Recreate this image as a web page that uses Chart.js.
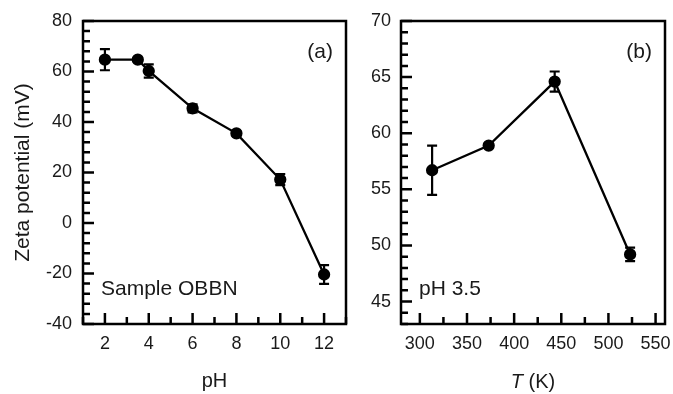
<!DOCTYPE html>
<html lang="en">
<head>
  <meta charset="UTF-8">
  <title>Zeta potential</title>
  <script src="https://cdn.jsdelivr.net/npm/chart.js"></script>
  <style>
    body { margin: 0; background: #fff; }
    #wrapA { position: absolute; left: 0; top: 0; width: 355px; height: 394px; }
    #wrapB { position: absolute; left: 355px; top: 0; width: 318px; height: 394px; }
  </style>
</head>
<body>
  <div id="wrapA"><canvas id="chartA"></canvas></div>
  <div id="wrapB"><canvas id="chartB"></canvas></div>

  <script>
    // panel (a): zeta potential vs pH
    const phValues = [2, 3.5, 4, 6, 8, 10, 12];
    const zetaA = [64.7, 64.7, 60.2, 45.4, 35.5, 17.2, -20.4];
    const errA = [4.2, 0.8, 2.6, 1.6, 0.8, 2.2, 3.7];
    const xTicksA = [2, 4, 6, 8, 10, 12];
    const yTicksA = [-40, -20, 0, 20, 40, 60, 80];

    // panel (b): zeta potential vs T at pH 3.5
    const tempValues = [313, 373, 443, 523];
    const zetaB = [56.7, 58.9, 64.6, 49.2];
    const errB = [2.2, 0.2, 0.9, 0.6];
    const xTicksB = [300, 350, 400, 450, 500, 550];
    const yTicksB = [45, 50, 55, 60, 65, 70];

    const FONT = "'Liberation Sans', Arial, sans-serif";
    const INK = '#1a1a1a';

    const framePlugin = {
      id: 'frame',
      afterDatasetsDraw(chart, args, opts) {
        const ctx = chart.ctx;
        const a = chart.chartArea;
        const xs = chart.scales.x, ys = chart.scales.y;
        ctx.save();
        ctx.strokeStyle = '#000';
        ctx.lineWidth = 2.5;
        ctx.strokeRect(a.left, a.top, a.right - a.left, a.bottom - a.top);

        // inward ticks
        ctx.beginPath();
        for (let v = Math.ceil(xs.min / opts.xMinor) * opts.xMinor; v <= xs.max; v += opts.xMinor) {
          const px = xs.getPixelForValue(v);
          const major = Math.abs(v / opts.xMajor - Math.round(v / opts.xMajor)) < 1e-6;
          ctx.moveTo(px, a.bottom);
          ctx.lineTo(px, a.bottom - (major ? 11 : 7));
        }
        for (let v = Math.ceil(ys.min / opts.yMinor) * opts.yMinor; v <= ys.max; v += opts.yMinor) {
          const py = ys.getPixelForValue(v);
          const major = Math.abs(v / opts.yMajor - Math.round(v / opts.yMajor)) < 1e-6;
          ctx.moveTo(a.left, py);
          ctx.lineTo(a.left + (major ? 11 : 7), py);
        }
        ctx.stroke();

        // error bars
        const ds = chart.data.datasets[0];
        ctx.lineWidth = 2.2;
        ctx.beginPath();
        ds.data.forEach((p, i) => {
          const px = xs.getPixelForValue(p.x);
          const top = ys.getPixelForValue(p.y + opts.err[i]);
          const bot = ys.getPixelForValue(p.y - opts.err[i]);
          ctx.moveTo(px, top); ctx.lineTo(px, bot);
          ctx.moveTo(px - 5, top); ctx.lineTo(px + 5, top);
          ctx.moveTo(px - 5, bot); ctx.lineTo(px + 5, bot);
        });
        ctx.stroke();

        // labels in the panel
        ctx.fillStyle = INK;
        ctx.font = '21px ' + FONT;
        ctx.textBaseline = 'middle';
        ctx.textAlign = 'right';
        ctx.fillText(opts.tag, a.right - 13, a.top + 31);
        ctx.textAlign = 'left';
        ctx.fillText(opts.note, a.left + 18, a.bottom - 35);

        if (opts.italicTitle) {
          const rest = ' (K)';
          ctx.font = 'italic 20px ' + FONT;
          const w1 = ctx.measureText('T').width;
          ctx.font = '20px ' + FONT;
          const w2 = ctx.measureText(rest).width;
          const cx = (a.left + a.right) / 2;
          const x0 = cx - (w1 + w2) / 2;
          ctx.font = 'italic 20px ' + FONT;
          ctx.fillText('T', x0, 382);
          ctx.font = '20px ' + FONT;
          ctx.fillText(rest, x0 + w1, 382);
        }
        ctx.restore();
      }
    };

    function makeChart(id, xs, ys, err, cfg) {
      const points = xs.map((x, i) => ({ x: x, y: ys[i] }));
      return new Chart(document.getElementById(id), {
        type: 'scatter',
        data: {
          datasets: [{
            data: points,
            showLine: true,
            borderColor: '#000',
            borderWidth: 2.3,
            backgroundColor: '#000',
            pointRadius: 5,
            pointHoverRadius: 5,
            tension: 0
          }]
        },
        options: {
          responsive: true,
          maintainAspectRatio: false,
          animation: false,
          layout: { padding: { left: 0, right: cfg.padRight, top: 21, bottom: 0 } },
          plugins: {
            legend: { display: false },
            tooltip: { enabled: false },
            frame: {
              err: err, tag: cfg.tag, note: cfg.note, italicTitle: cfg.italicTitle,
              xMinor: cfg.xMinor, xMajor: cfg.xMajor, yMinor: cfg.yMinor, yMajor: cfg.yMajor
            }
          },
          scales: {
            x: {
              type: 'linear',
              min: cfg.xMin, max: cfg.xMax,
              afterBuildTicks: s => { s.ticks = cfg.xTicks.map(v => ({ value: v })); },
              afterFit: s => { s.height = 70; },
              grid: { display: false },
              border: { display: false },
              ticks: { color: INK, font: { family: FONT, size: 18 }, padding: 1, maxRotation: 0 },
              title: {
                display: !cfg.italicTitle,
                text: cfg.xTitle,
                color: INK,
                font: { family: FONT, size: 20 },
                padding: { top: 0, bottom: 1 }
              }
            },
            y: {
              type: 'linear',
              min: cfg.yMin, max: cfg.yMax,
              afterBuildTicks: s => { s.ticks = cfg.yTicks.map(v => ({ value: v })); },
              afterFit: s => { s.width = cfg.yWidth; },
              grid: { display: false },
              border: { display: false },
              ticks: { color: INK, font: { family: FONT, size: 18 }, padding: cfg.yPad },
              title: {
                display: !!cfg.yTitle,
                text: cfg.yTitle,
                color: INK,
                font: { family: FONT, size: 21 },
                padding: { top: 11, bottom: 0 }
              }
            }
          }
        },
        plugins: [framePlugin]
      });
    }

    makeChart('chartA', phValues, zetaA, errA, {
      xMin: 1, xMax: 13, yMin: -40, yMax: 80,
      xTicks: xTicksA, yTicks: yTicksA,
      xMinor: 1, xMajor: 2, yMinor: 4, yMajor: 20,
      xTitle: 'pH', yTitle: 'Zeta potential (mV)',
      yWidth: 83, yPad: 3, padRight: 9,
      tag: '(a)', note: 'Sample OBBN', italicTitle: false
    });

    makeChart('chartB', tempValues, zetaB, errB, {
      xMin: 280, xMax: 560, yMin: 43, yMax: 70,
      xTicks: xTicksB, yTicks: yTicksB,
      xMinor: 25, xMajor: 50, yMinor: 1, yMajor: 5,
      xTitle: 'T (K)', yTitle: '',
      yWidth: 46, yPad: 2, padRight: 8,
      tag: '(b)', note: 'pH 3.5', italicTitle: true
    });
  </script>
</body>
</html>
